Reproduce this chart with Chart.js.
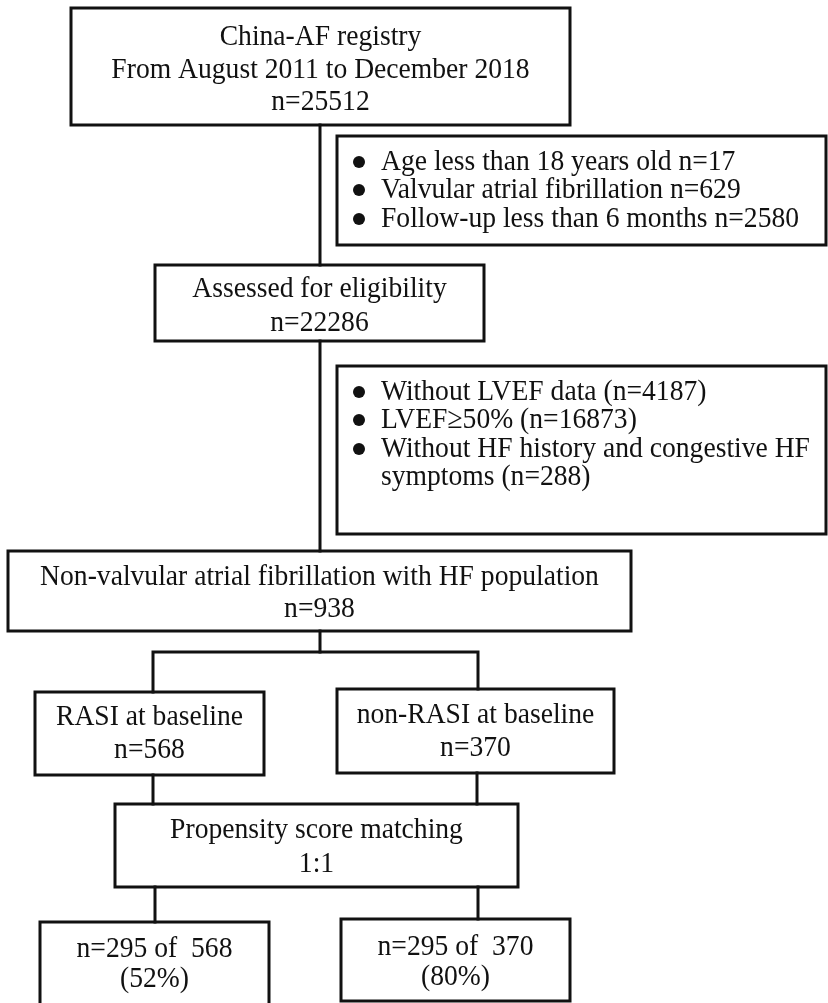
<!DOCTYPE html>
<html>
<head>
<meta charset="utf-8">
<script src="https://cdn.jsdelivr.net/npm/chart.js@4"></script>
<style>
  html, body { margin: 0; padding: 0; background: #fff; }
  #wrap { width: 828px; height: 1003px; }
</style>
</head>
<body>
<div id="wrap"><canvas id="flowChart" width="828" height="1003"></canvas></div>
<script>
// box texts (counts)
const registryLines = ["China-AF registry", "From August 2011 to December 2018", "n=25512"];
const exclusionA = [
  ["Age less than 18 years old n=17"],
  ["Valvular atrial fibrillation n=629"],
  ["Follow-up less than 6 months n=2580"]
];
const assessedLines = ["Assessed for eligibility", "n=22286"];
const exclusionB = [
  ["Without LVEF data (n=4187)"],
  ["LVEF\u226550% (n=16873)"],
  ["Without HF history and congestive HF", "symptoms (n=288)"]
];
const populationLines = ["Non-valvular atrial fibrillation with HF population", "n=938"];
const rasiLines = ["RASI at baseline", "n=568"];
const nonRasiLines = ["non-RASI at baseline", "n=370"];
const matchingLines = ["Propensity score matching", "1:1"];
const matchedRasi = ["n=295 of  568", "(52%)"];
const matchedNonRasi = ["n=295 of  370", "(80%)"];

// layout of the boxes, in the page's own units (x right, y down)
const boxLayout = [
  { lines: registryLines,  x0: 71,  x1: 570, y0: 8,   y1: 125,  base: [45, 78, 110] },
  { bullets: exclusionA,   x0: 337, x1: 826, y0: 136, y1: 245,  base: [170, 198, 227] },
  { lines: assessedLines,  x0: 155, x1: 484, y0: 265, y1: 341,  base: [297, 331] },
  { bullets: exclusionB,   x0: 337, x1: 826, y0: 366, y1: 534,  base: [400, 428, 457, 485] },
  { lines: populationLines, x0: 8,  x1: 631, y0: 551, y1: 631,  base: [585, 617] },
  { lines: rasiLines,      x0: 35,  x1: 264, y0: 692, y1: 775,  base: [725, 758] },
  { lines: nonRasiLines,   x0: 337, x1: 614, y0: 689, y1: 773,  base: [723, 756] },
  { lines: matchingLines,  x0: 115, x1: 518, y0: 804, y1: 887,  base: [838, 872] },
  { lines: matchedRasi,    x0: 40,  x1: 269, y0: 922, y1: 1007, base: [957, 987] },
  { lines: matchedNonRasi, x0: 341, x1: 570, y0: 919, y1: 1001, base: [955, 985] }
];

// connector polylines
const connectors = [
  [[320, 125], [320, 265]],
  [[320, 341], [320, 551]],
  [[320, 631], [320, 652]],
  [[153, 692], [153, 652], [478, 652], [478, 689]],
  [[153, 775], [153, 804]],
  [[477, 773], [477, 804]],
  [[155, 887], [155, 922]],
  [[478, 887], [478, 919]]
];

const INK = "#111";
const FONT = "30px 'Liberation Serif', 'Times New Roman', serif";
const SQUEEZE = 0.92; // the figure's type is a little narrow

function lineSet(points) {
  return {
    data: points.map(p => ({ x: p[0], y: p[1] })),
    showLine: true,
    borderColor: INK,
    borderWidth: 3,
    borderCapStyle: "square",
    borderJoinStyle: "miter",
    pointRadius: 0,
    tension: 0,
    fill: false,
    clip: false
  };
}

const datasets = [];
boxLayout.forEach(b => {
  datasets.push(lineSet([[b.x0, b.y0], [b.x1, b.y0], [b.x1, b.y1], [b.x0, b.y1], [b.x0, b.y0]]));
});
connectors.forEach(c => datasets.push(lineSet(c)));

function squeezedText(ctx, t, px, py) {
  ctx.save();
  ctx.translate(px, py);
  ctx.scale(SQUEEZE, 1);
  ctx.fillText(t, 0, 0);
  ctx.restore();
}

// writes the box texts and bullet dots
const boxText = {
  id: "boxText",
  afterDatasetsDraw(chart) {
    const ctx = chart.ctx;
    const xs = chart.scales.x;
    const ys = chart.scales.y;
    ctx.save();
    ctx.font = FONT;
    ctx.fillStyle = INK;
    ctx.textBaseline = "alphabetic";
    boxLayout.forEach(b => {
      if (b.lines) {
        ctx.textAlign = "center";
        const cx = xs.getPixelForValue((b.x0 + b.x1) / 2);
        b.lines.forEach((t, i) => squeezedText(ctx, t, cx, ys.getPixelForValue(b.base[i])));
      } else {
        ctx.textAlign = "left";
        let row = 0;
        b.bullets.forEach(item => {
          const by = ys.getPixelForValue(b.base[row] - 8);
          ctx.beginPath();
          ctx.arc(xs.getPixelForValue(b.x0 + 22), by, 6, 0, Math.PI * 2);
          ctx.fill();
          item.forEach(t => {
            squeezedText(ctx, t, xs.getPixelForValue(b.x0 + 44), ys.getPixelForValue(b.base[row]));
            row++;
          });
        });
      }
    });
    ctx.restore();
  }
};

new Chart(document.getElementById("flowChart").getContext("2d"), {
  type: "scatter",
  data: { datasets: datasets },
  options: {
    responsive: false,
    animation: false,
    devicePixelRatio: 1,
    layout: { padding: 0 },
    scales: {
      x: { type: "linear", min: 0, max: 828, display: false },
      y: { type: "linear", min: 0, max: 1003, reverse: true, display: false }
    },
    plugins: {
      legend: { display: false },
      tooltip: { enabled: false }
    }
  },
  plugins: [boxText]
});
</script>
</body>
</html>
